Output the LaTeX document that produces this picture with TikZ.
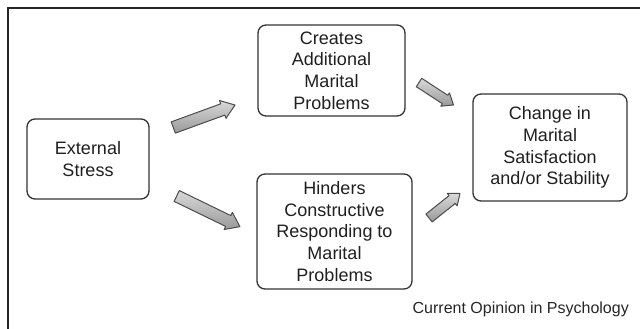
\documentclass[tikz,border=0pt]{standalone}
\usepackage{fontspec}
\setmainfont{Liberation Sans}
\usetikzlibrary{calc}
\newcommand\blkarrow[5]{% tail, tip, shaft half, head half, head length
  \draw[blockarr] let \p1=($(#2)-(#1)$), \n1={atan2(\y1,\x1)}, \n2={veclen(\x1,\y1)} in
    [shift={(#1)}, rotate=\n1]
    (0pt,-#3pt) -- ({\n2-#5pt},-#3pt) -- ({\n2-#5pt},-#4pt) -- (\n2,0pt)
    -- ({\n2-#5pt},#4pt) -- ({\n2-#5pt},#3pt) -- (0pt,#3pt) -- cycle;}
\begin{document}
\begin{tikzpicture}[x=1pt,y=-1pt,
  box/.style={draw=black!80, line width=1.3pt, rounded corners=8pt, align=center,
    text=black!88, font=\fontsize{18}{21.7}\selectfont, inner sep=0pt},
  blockarr/.style={draw=black!70, line width=1pt, line join=round, top color=black!15, bottom color=black!40},
  frameline/.style={draw=black!85, line width=1.5pt}]
\useasboundingbox (0,0) rectangle (640,329);
\draw[frameline] (8,340) -- (8,8) -- (650,8);
\node[box, minimum width=122pt, minimum height=80pt] (ext) at (88,159) {External\\Stress};
\node[box, minimum width=147pt, minimum height=91pt] (cre) at (331.5,70.5) {Creates\\Additional\\Marital\\Problems};
\node[box, minimum width=155pt, minimum height=115pt] (hin) at (334.5,231.5) {Hinders\\Constructive\\Responding to\\Marital\\Problems};
\node[box, minimum width=154pt, minimum height=107pt] (chg) at (550,147.5) {Change in\\Marital\\Satisfaction\\and/or Stability};
\coordinate (a1t) at (173.3,127.5); \coordinate (a1h) at (235,105);
\coordinate (a2t) at (419,82.5);    \coordinate (a2h) at (453.5,105);
\coordinate (a3t) at (176.7,196);   \coordinate (a3h) at (240,226.7);
\coordinate (a4t) at (429,218);     \coordinate (a4h) at (460,193.3);
\blkarrow{a1t}{a1h}{6}{9.5}{13}
\blkarrow{a2t}{a2h}{5}{8}{10}
\blkarrow{a3t}{a3h}{6}{9.5}{13}
\blkarrow{a4t}{a4h}{5}{8}{10}
\node[anchor=east, inner sep=0pt, text=black!85, font=\fontsize{16}{18}\selectfont] (cap) at (629,309) {Current Opinion in Psychology};
\end{tikzpicture}
\end{document}
